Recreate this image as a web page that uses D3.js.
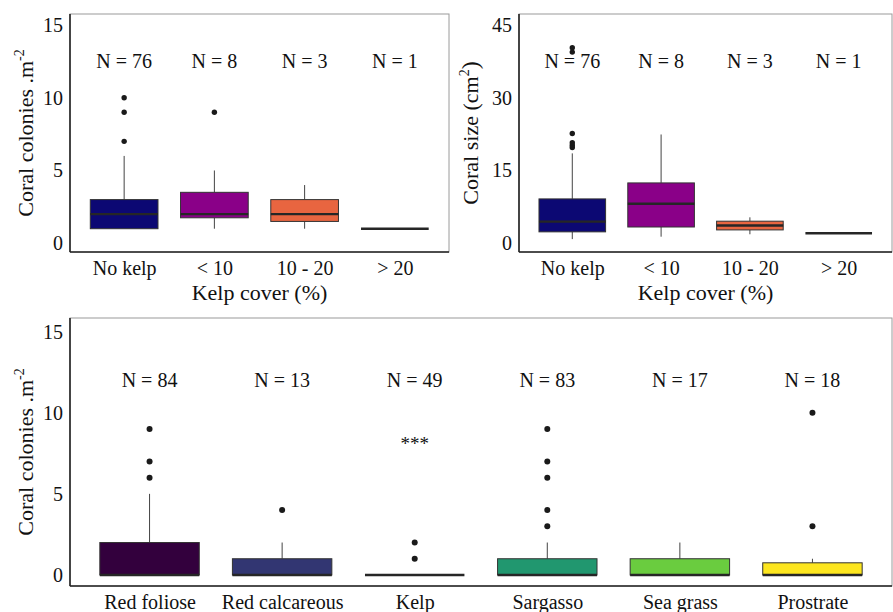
<!DOCTYPE html>
<html>
<head>
<meta charset="utf-8">
<script src="https://d3js.org/d3.v7.min.js"></script>
<style>
  body { margin: 0; background: #fff; }
  svg text { font-family: "Liberation Serif", "Times New Roman", "DejaVu Serif", serif !important; fill: #111; }
</style>
</head>
<body>
<div class="chart"></div>
<script>
var svgWidth = 893;
var svgHeight = 612;

// ---- data ----
// box stats are [lower whisker, q1, median, q3, upper whisker]
var kelpCats = ["No kelp", "< 10", "10 - 20", "> 20"];
var kelpN = [76, 8, 3, 1];
var kelpColors = ["#0c0873", "#8a0088", "#e86540", "#e8d020"];

var densityBox = [[1, 1, 2, 3, 6], [1, 1.75, 2, 3.5, 5], [1, 1.5, 2, 3, 4], [1, 1, 1, 1, 1]];
var densityOut = [[7, 9, 10], [9], [], []];
var densityTicks = [0, 5, 10, 15];

var sizeBox = [[0.8, 2.3, 4.4, 9.1, 18.5], [1.3, 3.3, 8.1, 12.4, 22.4], [1.8, 2.7, 3.6, 4.5, 5.3], [2, 2, 2, 2, 2]];
var sizeOut = [[19.7, 20.2, 20.7, 22.6, 39.4, 40.3], [], [], []];
var sizeTicks = [0, 15, 30, 45];

var substrateCats = ["Red foliose", "Red calcareous", "Kelp", "Sargasso", "Sea grass", "Prostrate"];
var substrateN = [84, 13, 49, 83, 17, 18];
var substrateColors = ["#33003d", "#323672", "#21908c", "#21976f", "#6acc3f", "#fde61f"];
var substrateBox = [[0, 0, 0, 2, 5], [0, 0, 0, 1, 2], [0, 0, 0, 0, 0], [0, 0, 0, 1, 2], [0, 0, 0, 1, 2], [0, 0, 0, 0.75, 1]];
var substrateOut = [[6, 7, 9], [4], [1, 2], [3, 4, 6, 7, 9], [], [3, 10]];
var substrateTicks = [0, 5, 10, 15];

var serif = '"Liberation Serif", "Times New Roman", serif';

var svg = d3.select(".chart")
  .append("svg")
  .attr("width", svgWidth)
  .attr("height", svgHeight)
  .style("font-family", serif);

function drawPanel(p) {
  var x = d3.scalePoint()
    .domain(p.cats)
    .range([p.left, p.right])
    .padding(0.6);
  var y = d3.scaleLinear()
    .domain(p.yDomain)
    .range([p.bottom, p.top]);
  var boxW = x.step() * 0.75;

  var g = svg.append("g");

  // frame
  g.append("rect")
    .attr("x", p.left).attr("y", p.top)
    .attr("width", p.right - p.left).attr("height", p.bottom - p.top)
    .attr("fill", "none").attr("stroke", "#9a9a9a").attr("stroke-width", 1);

  // y axis (labels only, no ticks)
  var leftAxis = d3.axisLeft(y).tickValues(p.ticks).tickSize(0).tickPadding(7);
  var yAxis = g.append("g")
    .attr("transform", `translate(${p.left},0)`)
    .call(leftAxis)
    .attr("font-family", null);
  yAxis.select(".domain").attr("stroke", "#222").attr("stroke-width", 1.6)
    .attr("d", `M0,${p.top}V${p.bottom}`);
  yAxis.selectAll("text").attr("font-size", 20).attr("fill", "#111")
    .style("font-family", serif);

  // x axis
  var bottomAxis = d3.axisBottom(x).tickSize(0).tickPadding(p.xPad);
  var xAxis = g.append("g")
    .attr("transform", `translate(0,${p.bottom})`)
    .call(bottomAxis)
    .attr("font-family", null);
  xAxis.select(".domain").attr("stroke", "#222").attr("stroke-width", 1.6)
    .attr("d", `M${p.left},0H${p.right}`);
  xAxis.selectAll("text").attr("font-size", 20).attr("fill", "#111")
    .style("font-family", serif);

  var groups = g.selectAll(".box")
    .data(p.cats)
    .enter()
    .append("g")
    .attr("class", "box");

  // whiskers
  groups.append("line")
    .attr("x1", d => x(d)).attr("x2", d => x(d))
    .attr("y1", (d, i) => y(p.box[i][0])).attr("y2", (d, i) => y(p.box[i][1]))
    .attr("stroke", "#444").attr("stroke-width", 1);
  groups.append("line")
    .attr("x1", d => x(d)).attr("x2", d => x(d))
    .attr("y1", (d, i) => y(p.box[i][3])).attr("y2", (d, i) => y(p.box[i][4]))
    .attr("stroke", "#444").attr("stroke-width", 1);

  // boxes
  groups.append("rect")
    .attr("x", d => x(d) - boxW / 2)
    .attr("width", boxW)
    .attr("y", (d, i) => y(p.box[i][3]))
    .attr("height", (d, i) => y(p.box[i][1]) - y(p.box[i][3]))
    .attr("fill", (d, i) => p.colors[i])
    .attr("stroke", "#333").attr("stroke-width", 1);

  // medians
  groups.append("line")
    .attr("x1", d => x(d) - boxW / 2).attr("x2", d => x(d) + boxW / 2)
    .attr("y1", (d, i) => y(p.box[i][2])).attr("y2", (d, i) => y(p.box[i][2]))
    .attr("stroke", "#262626").attr("stroke-width", 2.4);

  // outliers
  groups.each(function(d, i) {
    d3.select(this).selectAll("circle")
      .data(p.out[i])
      .enter()
      .append("circle")
      .attr("cx", x(d))
      .attr("cy", v => y(v))
      .attr("r", p.dotR)
      .attr("fill", "#1a1a1a");
  });

  // sample sizes
  groups.append("text")
    .attr("x", d => x(d))
    .attr("y", y(p.nAt))
    .attr("dy", "0.35em")
    .attr("text-anchor", "middle")
    .attr("font-size", 20)
    .text((d, i) => "N = " + p.n[i]);

  // y title
  var yt = g.append("text")
    .attr("transform", `translate(${p.yTitleX},${(p.top + p.bottom) / 2}) rotate(-90)`)
    .attr("text-anchor", "middle")
    .attr("font-size", 22);
  yt.append("tspan").text(p.yTitle[0]);
  yt.append("tspan").attr("font-size", 14).attr("dy", -9).text(p.yTitle[1]);
  if (p.yTitle[2]) yt.append("tspan").attr("dy", 9).attr("font-size", 24).text(p.yTitle[2]);

  if (p.xTitle) {
    g.append("text")
      .attr("x", (p.left + p.right) / 2)
      .attr("y", p.bottom + 40)
      .attr("dy", "0.35em")
      .attr("text-anchor", "middle")
      .attr("font-size", 22)
      .text(p.xTitle);
  }

  return { x: x, y: y, g: g };
}

drawPanel({
  cats: kelpCats, n: kelpN, colors: kelpColors, box: densityBox, out: densityOut,
  ticks: densityTicks, yDomain: [-0.6, 15.75], nAt: 12.5, dotR: 2.7,
  left: 70, right: 449, top: 14, bottom: 252, xPad: 9,
  yTitle: ["Coral colonies .m", "-2"], yTitleX: 33, xTitle: "Kelp cover (%)"
});

drawPanel({
  cats: kelpCats, n: kelpN, colors: kelpColors, box: sizeBox, out: sizeOut,
  ticks: sizeTicks, yDomain: [-1.86, 47.27], nAt: 37.5, dotR: 2.7,
  left: 519, right: 892, top: 14, bottom: 252, xPad: 9,
  yTitle: ["Coral size  (cm", "2", ")"], yTitleX: 478, xTitle: "Kelp cover (%)"
});

var bottomPanel = drawPanel({
  cats: substrateCats, n: substrateN, colors: substrateColors, box: substrateBox, out: substrateOut,
  ticks: substrateTicks, yDomain: [-0.68, 15.84], nAt: 12, dotR: 3,
  left: 70, right: 892, top: 318, bottom: 586, xPad: 9,
  yTitle: ["Coral colonies .m", "-2"], yTitleX: 33, xTitle: null
});

// significance mark over kelp
bottomPanel.g.append("text")
  .attr("x", bottomPanel.x("Kelp"))
  .attr("y", bottomPanel.y(8.1))
  .attr("dy", "0.35em")
  .attr("text-anchor", "middle")
  .attr("font-size", 19)
  .text("***");
</script>
</body>
</html>
